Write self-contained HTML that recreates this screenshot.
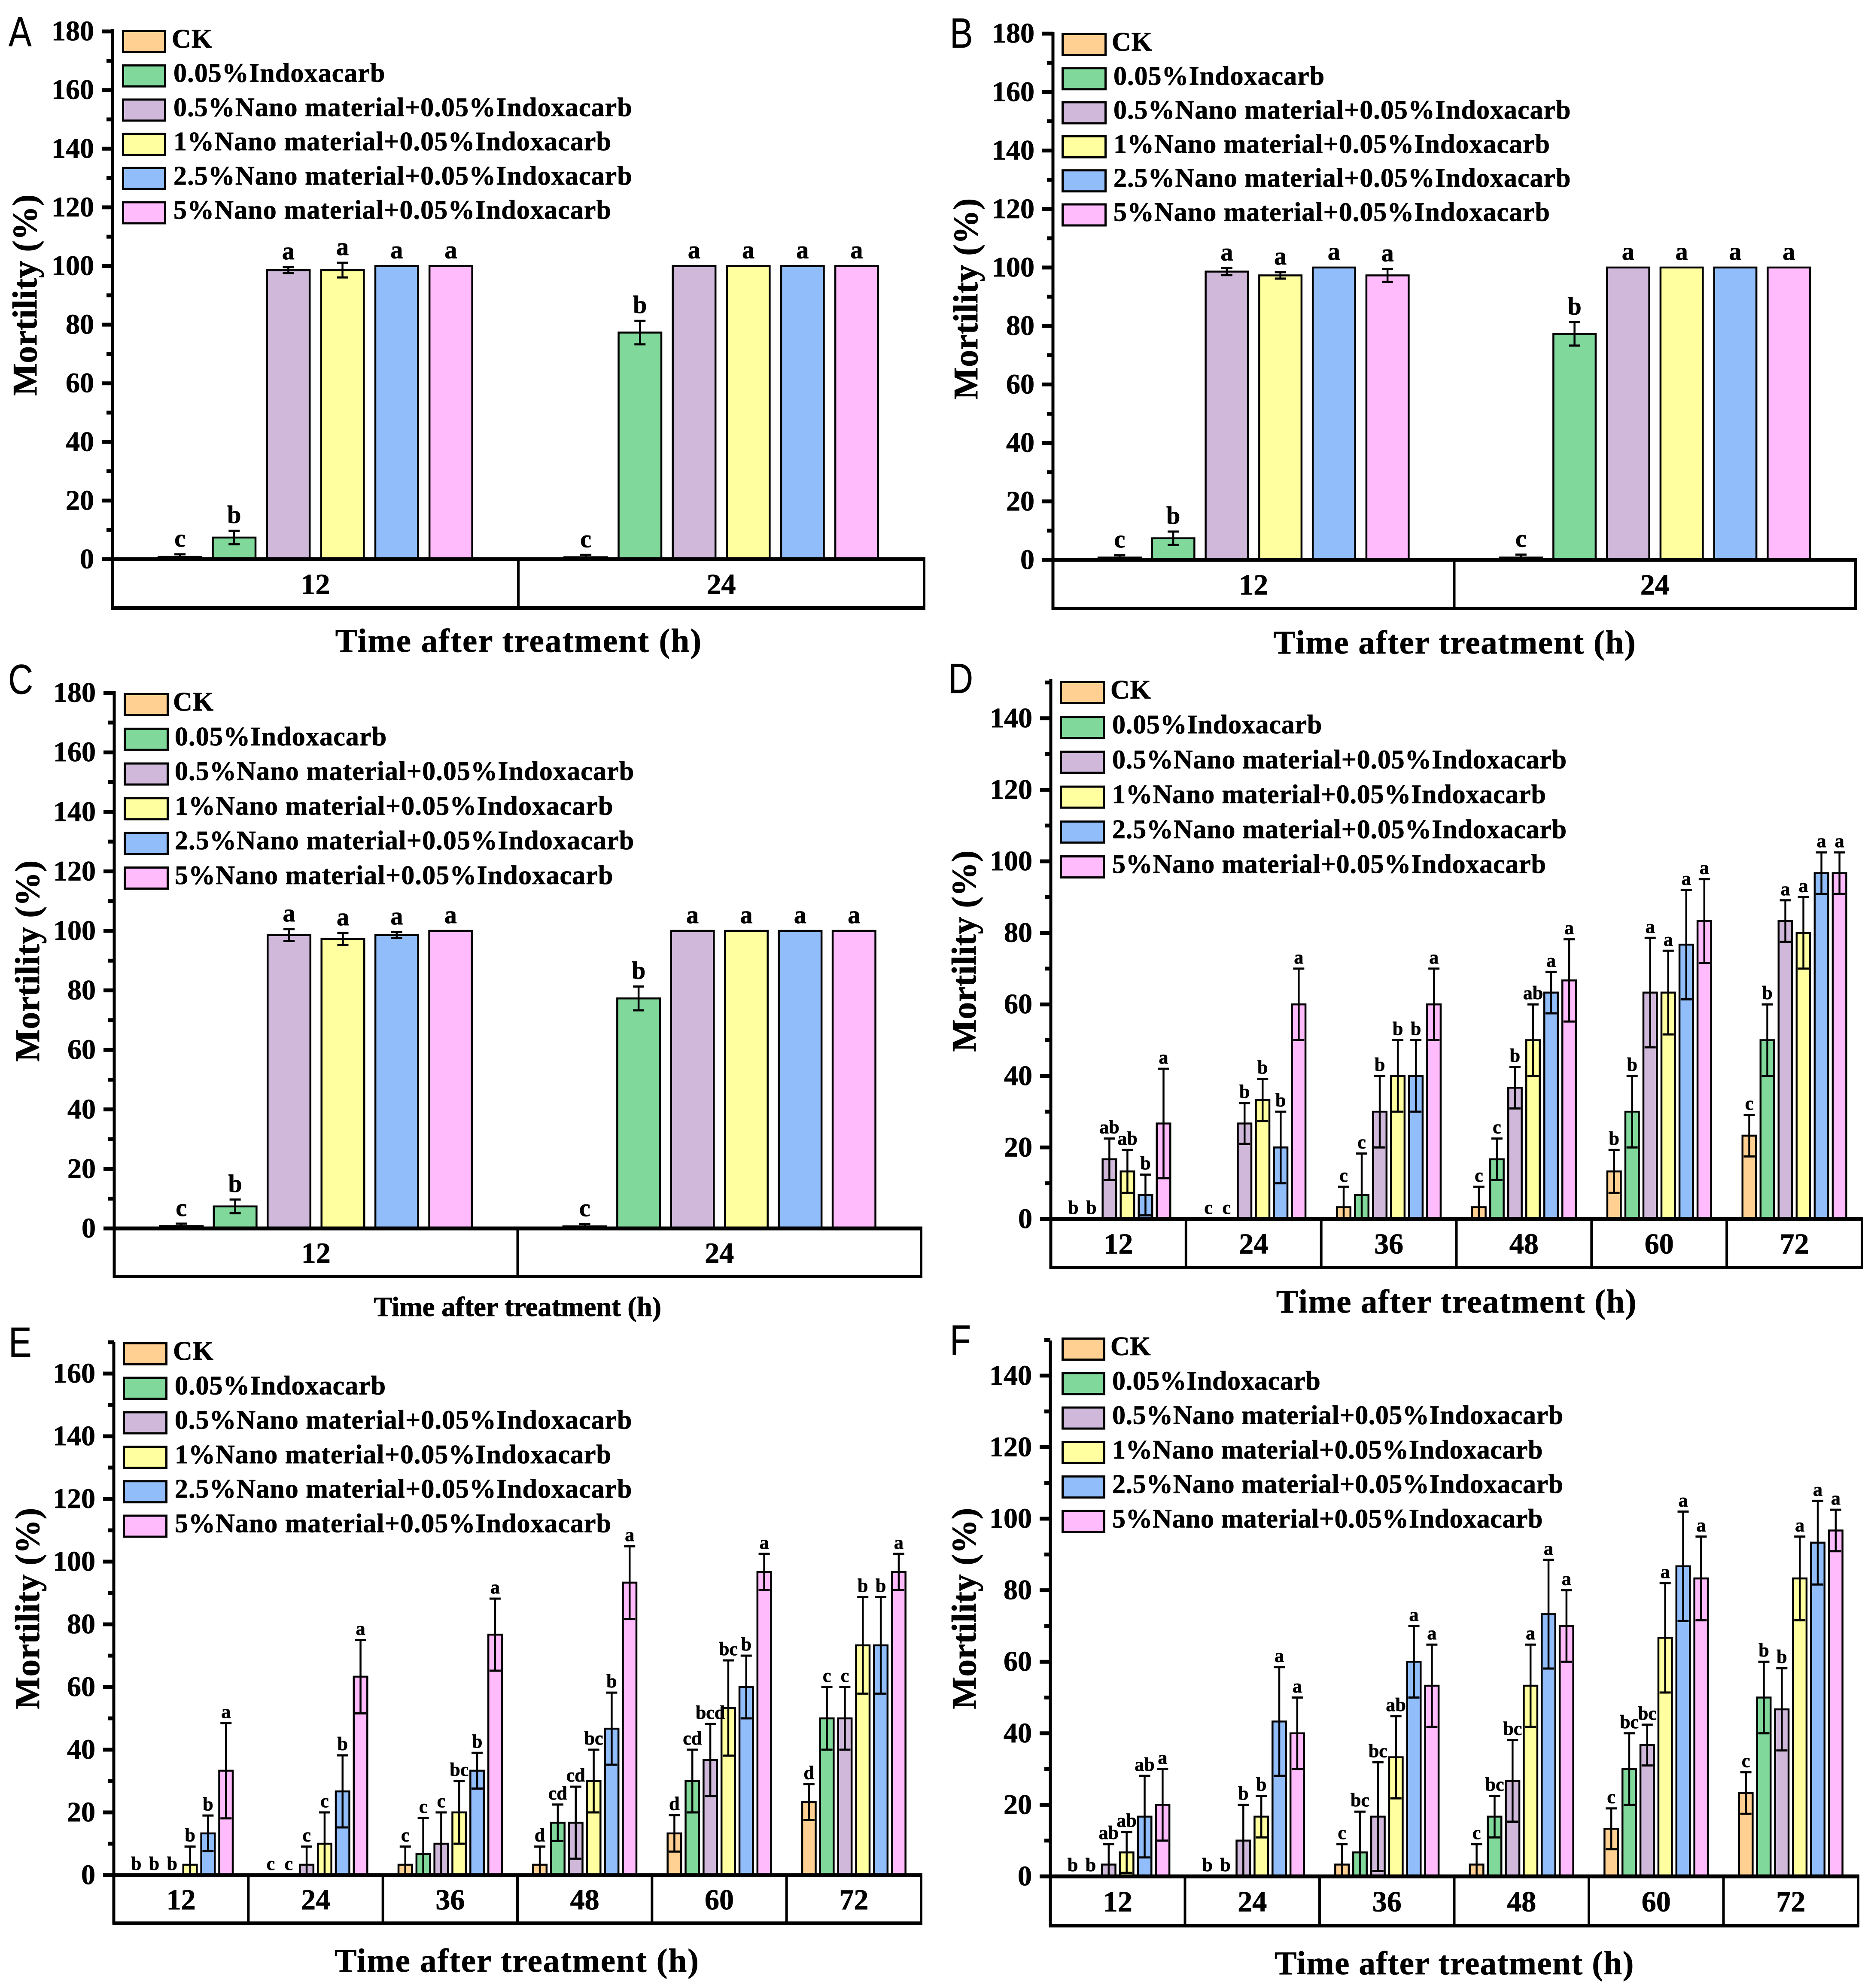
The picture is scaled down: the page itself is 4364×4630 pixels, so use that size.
<!DOCTYPE html>
<html lang="en">
<head>
<meta charset="utf-8">
<title>Mortility bar charts, panels A to F</title>
<style>
html,body{margin:0;padding:0;background:#fff;}
svg{display:block;}
text{font-family:"Liberation Serif",serif;font-weight:bold;fill:#000;stroke:#000;stroke-width:0.8px;}
.panel-letter{font-family:"Liberation Sans",sans-serif;font-weight:normal;stroke-width:0.5px;}
</style>
</head>
<body>
<svg id="figure" xmlns="http://www.w3.org/2000/svg" width="4364" height="4630" viewBox="0 0 4364 4630">
<rect x="0" y="0" width="4364" height="4630" fill="#ffffff"/>
</svg>
<script>
const seriesNames = ['CK','0.05%Indoxacarb','0.5%Nano material+0.05%Indoxacarb','1%Nano material+0.05%Indoxacarb','2.5%Nano material+0.05%Indoxacarb','5%Nano material+0.05%Indoxacarb'];
const xAxisTitle = 'Time after treatment (h)';
const yAxisTitle = 'Mortility (%)';

const categoriesShort = ['12','24'];
const categoriesLong = ['12','24','36','48','60','72'];
const ticksTo180 = [0,20,40,60,80,100,120,140,160,180];
const ticksTo160 = [0,20,40,60,80,100,120,140,160];
const ticksTo140 = [0,20,40,60,80,100,120,140];

const valuesA = [[0.8,7.4,98.6,98.6,100,100],[0.7,77.3,100,100,100,100]];
const errorsA = [[0.9,2.3,1,2.5,0,0],[0.8,4,0,0,0,0]];
const lettersA = [['c','b','a','a','a','a'],['c','b','a','a','a','a']];

const valuesB = [[0.8,7.4,98.6,97.3,100,97.3],[0.8,77.3,100,100,100,100]];
const errorsB = [[0.8,2.3,1.2,1.1,0,2.2],[1,4,0,0,0,0]];
const lettersB = [['c','b','a','a','a','a'],['c','b','a','a','a','a']];

const valuesC = [[0.8,7.4,98.6,97.3,98.6,100],[0.7,77.3,100,100,100,100]];
const errorsC = [[0.8,2.3,2,2,1,0],[0.8,4,0,0,0,0]];
const lettersC = [['c','b','a','a','a','a'],['c','b','a','a','a','a']];

const valuesD = [[0,0,16.7,13.3,6.7,26.7],[0,0,26.7,33.3,20,60],[3.3,6.7,30,40,40,60],[3.3,16.7,36.7,50,63.3,66.7],[13.3,30,63.3,63.3,76.7,83.3],[23.3,50,83.3,80,96.7,96.7]];
const errorsD = [[0,0,5.8,6,5.7,15.3],[0,0,5.7,5.9,10,10],[5.7,11.6,10,10,10,10],[5.7,5.8,5.8,10,5.8,11.5],[6,10,15.3,11.7,15.3,11.7],[5.8,10,5.8,10,5.8,5.8]];
const lettersD = [['b','b','ab','ab','b','a'],['c','c','b','b','b','a'],['c','c','b','b','b','a'],['c','c','b','ab','a','a'],['b','b','a','a','a','a'],['c','b','a','a','a','a']];

const valuesE = [[0,0,0,3.3,13.3,33.3],[0,0,3.3,10,26.7,63.3],[3.3,6.7,10,20,33.3,76.7],[3.3,16.7,16.7,30,46.7,93.3],[13.3,30,36.7,53.3,60,96.7],[23.3,50,50,73.3,73.3,96.7]];
const errorsE = [[0,0,0,5.8,5.7,15.2],[0,0,5.8,10,11.5,11.7],[5.8,11.5,10,10,5.7,11.5],[5.8,5.8,11.5,10,11.5,11.6],[5.8,10,11.5,15.2,10,5.8],[5.7,10,10,15.4,15.4,5.8]];
const lettersE = [['b','b','b','b','b','a'],['c','c','c','c','b','a'],['c','c','c','bc','b','a'],['d','cd','cd','bc','b','a'],['d','cd','bcd','bc','b','a'],['d','c','c','b','b','a']];

const valuesF = [[0,0,3.3,6.7,16.7,20],[0,0,10,16.7,43.3,40],[3.3,6.7,16.7,33.3,60,53.3],[3.3,16.7,26.7,53.3,73.3,70],[13.3,30,36.7,66.7,86.7,83.3],[23.3,50,46.7,83.3,93.3,96.7]];
const errorsF = [[0,0,5.7,5.7,11.4,10],[0,0,10,5.8,15.2,10],[5.7,11.4,15.2,11.5,10,11.5],[5.7,5.8,11.4,11.5,15.2,10],[5.7,10,5.7,15.3,15.3,11.7],[5.8,10,11.5,11.7,11.7,5.8]];
const lettersF = [['b','b','ab','ab','ab','a'],['b','b','b','b','a','a'],['c','bc','bc','ab','a','a'],['c','bc','bc','a','a','a'],['c','bc','bc','a','a','a'],['c','b','b','a','a','a']];

const seriesColors = ['#FFD091','#80D99B','#CFB8DA','#FFFF9F','#91BEFA','#FFBBFB'];

const panels = [
  {id:'a',title:'A',cats:categoriesShort,ticks:ticksTo180,vals:valuesA,errs:errorsA,lets:lettersA,left:262,right:2152,base:1302.5,unit:6.83,top:72,bottom:1416,letterX:20,letterY:108,yTitleX:85,yTitleY:687,xTitleX:1208,xTitleY:1518,xTitleSize:77,xTitleSpace:2.2,legX:284,legY:70,legStep:79.7,legW:103,legTextX:404,legSpace:1.1,barW:104,strokeBar:4.5,letterSize:58,letterGap:18,titleSp:0.4},
  {id:'b',title:'B',cats:categoriesShort,ticks:ticksTo180,vals:valuesB,errs:errorsB,lets:lettersB,left:2452,right:4321,base:1304,unit:6.81,top:78,bottom:1417,letterX:2212,letterY:111,yTitleX:2276,yTitleY:696,xTitleX:3388,xTitleY:1522,xTitleSize:77,xTitleSpace:1.8,legX:2472,legY:77,legStep:79.3,legW:105,legTextX:2593,legSpace:1,barW:103,strokeBar:4.5,letterSize:58,letterGap:18,titleSp:0.4},
  {id:'c',title:'C',cats:categoriesShort,ticks:ticksTo180,vals:valuesC,errs:errorsC,lets:lettersC,left:266,right:2145,base:2861,unit:6.93,top:1613,bottom:2973,letterX:19,letterY:1616,yTitleX:91,yTitleY:2238,xTitleX:1205,xTitleY:3065,xTitleSize:65,xTitleSpace:-0.3,legX:288,legY:1614,legStep:80.8,legW:105,legTextX:407,legSpace:1.15,barW:104,strokeBar:4.5,letterSize:58,letterGap:18,titleSp:0.4},
  {id:'d',title:'D',cats:categoriesLong,ticks:ticksTo140,vals:valuesD,errs:errorsD,lets:lettersD,left:2447,right:4336,base:2839,unit:8.33,top:1586,bottom:2952,letterX:2208,letterY:1614,yTitleX:2272,yTitleY:2215,xTitleX:3392,xTitleY:3057,xTitleSize:77,xTitleSpace:1.6,legX:2468,legY:1586,legStep:81.2,legW:105,legTextX:2590,legSpace:0.8,barW:36,strokeBar:4.5,letterSize:44,letterGap:12,titleSp:0.4},
  {id:'e',title:'E',cats:categoriesLong,ticks:ticksTo160,vals:valuesE,errs:errorsE,lets:lettersE,left:265,right:2145,base:4367,unit:7.3,top:3130,bottom:4479,letterX:20,letterY:3160,yTitleX:91,yTitleY:3746,xTitleX:1204,xTitleY:4592,xTitleSize:77,xTitleSpace:2,legX:286,legY:3126,legStep:80.3,legW:104,legTextX:407,legSpace:1,barW:36,strokeBar:4.5,letterSize:44,letterGap:12,titleSp:0.4},
  {id:'f',title:'F',cats:categoriesLong,ticks:ticksTo140,vals:valuesF,errs:errorsF,lets:lettersF,left:2446,right:4327,base:4370,unit:8.33,top:3126,bottom:4485,letterX:2212,letterY:3155,yTitleX:2272,yTitleY:3746,xTitleX:3387,xTitleY:4598,xTitleSize:77,xTitleSpace:1.5,legX:2472,legY:3115,legStep:80.3,legW:102,legTextX:2590,legSpace:0.55,barW:36,strokeBar:4.5,letterSize:44,letterGap:12,titleSp:0.4}
];

const figure = document.getElementById('figure');
const SVG_NS = 'http://www.w3.org/2000/svg';

function svgEl(tag, attrs, parent, content) {
  const node = document.createElementNS(SVG_NS, tag);
  Object.keys(attrs).forEach(function (key) { node.setAttribute(key, attrs[key]); });
  if (content !== undefined) node.textContent = content;
  parent.appendChild(node);
  return node;
}

function drawPanel(p) {
  const yScale = function (v) { return p.base - v * p.unit; };
  const band = (p.right - p.left) / p.cats.length;
  const pitch = band * 0.1335;
  const xScale = function (c, s) { return p.left + band * (c + 0.5) + (s - 2.5) * pitch; };

  const group = svgEl('g', {}, figure);
  
  

  const panelLetter = svgEl('text', {x:0, y:0, transform:'translate(' + p.letterX + ',' + p.letterY + ') scale(0.82,1)', 'font-size':98, class:'panel-letter'}, group, p.title);
  
  

  // bars
  p.vals.forEach(function (row, c) {
    row.forEach(function (value, s) {
      if (value <= 0) return;
      const cx = xScale(c, s);
      const inner = p.barW - p.strokeBar;
      const topY = yScale(value);
      const bar = svgEl('rect', {x:cx - inner / 2, y:topY, width:inner, height:p.base - topY, fill:seriesColors[s], stroke:'#000', 'stroke-width':p.strokeBar}, group);
      
      
    });
  });

  // error bars and significance letters
  p.vals.forEach(function (row, c) {
    row.forEach(function (value, s) {
      const cx = xScale(c, s);
      const err = p.errs[c][s];
      const capHalf = 13;
      if (err > 0) {
        const hi = yScale(value + err);
        const lo = yScale(Math.max(0, value - err));
        const stem = svgEl('line', {x1:cx, x2:cx, y1:hi, y2:lo, stroke:'#000', 'stroke-width':4.5}, group);
        
        
        const capTop = svgEl('line', {x1:cx - capHalf, x2:cx + capHalf, y1:hi, y2:hi, stroke:'#000', 'stroke-width':5}, group);
        
        
        const capLow = svgEl('line', {x1:cx - capHalf, x2:cx + capHalf, y1:lo, y2:lo, stroke:'#000', 'stroke-width':5}, group);
        
        
      }
      const mark = svgEl('text', {x:cx, y:yScale(value + err) - p.letterGap, 'font-size':p.letterSize, 'text-anchor':'middle'}, group, p.lets[c][s]);
      
      
    });
  });

  // y axis line
  const yAxis = svgEl('line', {x1:p.left, x2:p.left, y1:p.top - 4, y2:p.bottom + 3, stroke:'#000', 'stroke-width':7}, group);
  
  

  // ticks
  const maxValue = (p.base - p.top) / p.unit;
  p.ticks.forEach(function (tick) {
    const y = yScale(tick);
    const major = svgEl('line', {x1:p.left - 25, x2:p.left, y1:y, y2:y, stroke:'#000', 'stroke-width':9}, group);
    
    
    const label = svgEl('text', {x:p.left - 43, y:y + 21, 'font-size':66, 'text-anchor':'end'}, group, String(tick));
    
    
    const minorValue = tick + 10;
    if (minorValue <= maxValue + 2) {
      const my = yScale(minorValue);
      const minor = svgEl('line', {x1:p.left - 14, x2:p.left, y1:my, y2:my, stroke:'#000', 'stroke-width':9}, group);
      
      
    }
  });

  // category box
  const baseLine = svgEl('line', {x1:p.left - 25, x2:p.right + 3, y1:p.base, y2:p.base, stroke:'#000', 'stroke-width':9}, group);
  
  
  const boxBottom = svgEl('line', {x1:p.left - 3, x2:p.right + 3, y1:p.bottom, y2:p.bottom, stroke:'#000', 'stroke-width':8}, group);
  
  
  p.cats.forEach(function (cat, c) {
    const edge = p.left + band * (c + 1);
    const divider = svgEl('line', {x1:edge, x2:edge, y1:p.base, y2:p.bottom, stroke:'#000', 'stroke-width':6}, group);
    
    
    const catLabel = svgEl('text', {x:p.left + band * (c + 0.5), y:(p.base + p.bottom) / 2 + 24, 'font-size':68, 'text-anchor':'middle'}, group, cat);
    
    
  });

  // titles
  const xTitle = svgEl('text', {x:p.xTitleX, y:p.xTitleY, 'font-size':p.xTitleSize, 'text-anchor':'middle', 'letter-spacing':p.xTitleSpace}, group, xAxisTitle);
  
  
  const yTitle = svgEl('text', {x:0, y:0, transform:'translate(' + p.yTitleX + ',' + p.yTitleY + ') rotate(-90)', 'font-size':80, 'text-anchor':'middle', 'letter-spacing':p.titleSp}, group, yAxisTitle);
  
  

  // legend
  seriesNames.forEach(function (name, s) {
    const rowY = p.legY + s * p.legStep;
    const swatch = svgEl('rect', {x:p.legX + 2.5, y:rowY + 2.5, width:p.legW - 5, height:49, fill:seriesColors[s], stroke:'#000', 'stroke-width':5}, group);
    
    
    const entry = svgEl('text', {x:s === 0 ? p.legTextX - 4 : p.legTextX, y:rowY + 41, 'font-size':62, 'letter-spacing':p.legSpace}, group, name);
    
    
  });
}

panels.forEach(drawPanel);
</script>
</body>
</html>
